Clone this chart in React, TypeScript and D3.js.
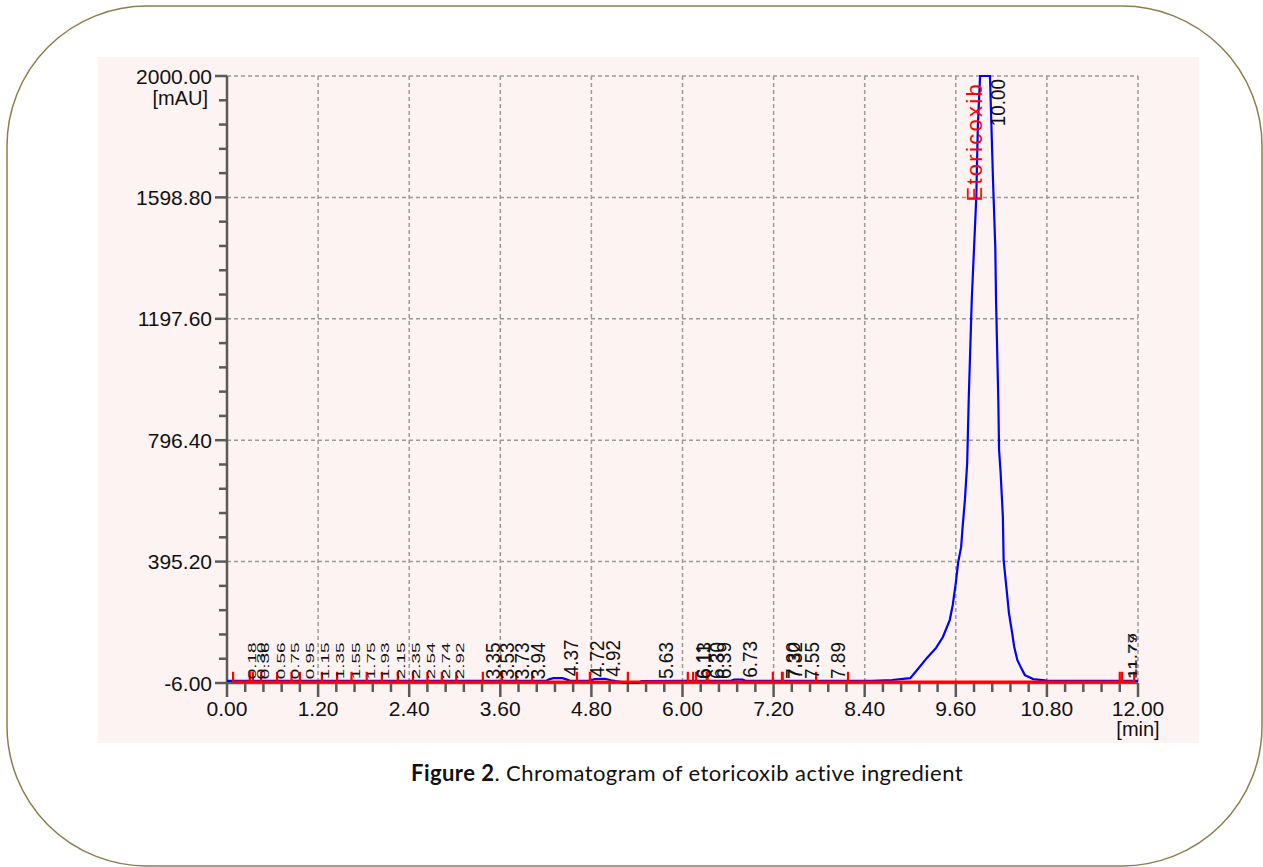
import React, { useEffect, useRef } from "react";
import * as d3 from "d3";

// axis tick labels as printed by the instrument software
const xTickLabels = ["0.00", "1.20", "2.40", "3.60", "4.80", "6.00", "7.20", "8.40", "9.60", "10.80", "12.00"];
const yTickLabels = ["-6.00", "395.20", "796.40", "1197.60", "1598.80", "2000.00"];

// detector signal (min, mAU)
const signalTime = [
  0, 0.06, 0.5, 1.0, 2.0, 3.0, 3.5, 4.0, 4.2, 4.25, 4.3, 4.42, 4.47, 4.52, 4.78, 4.84, 4.98, 5.06, 5.12,
  5.2, 5.24, 5.42, 5.46, 6.0, 6.3, 6.64, 6.68, 6.79, 6.83, 7.5, 8.0, 8.5, 8.76, 9.0, 9.09, 9.22, 9.34,
  9.43, 9.52, 9.56, 9.6, 9.63, 9.67, 9.69, 9.72, 9.75, 9.77, 9.81, 9.87, 9.89, 9.92, 9.95, 10.0, 10.05,
  10.09, 10.12, 10.13, 10.16, 10.17, 10.19, 10.22, 10.23, 10.27, 10.3, 10.34, 10.37, 10.41, 10.46, 10.51,
  10.62, 10.8, 11.5, 12.0,
];
const signalValue = [
  1, 1, 1, 1, 1, 1, 1, 1, 1, 7, 10, 10, 6, 1, 1, 7, 8, 3, 0,
  -3, -6, -6, 0, 1, 1, 1, 5, 5, 1, 1, 1, 1, 4, 10, 37, 77, 110,
  146, 202, 252, 325, 391, 443, 510, 599, 721, 929, 1260, 1600, 1831, 2100, 2250, 2300, 2200,
  1656, 1435, 1260, 929, 764, 691, 543, 400, 301, 225, 163, 113, 70, 44, 20,
  7, 2, 1, 1,
];

// integrated peaks: retention time label and apex height
const peakTimes = [
  0.18, 0.3, 0.36, 0.56, 0.75, 0.95, 1.15, 1.35, 1.55, 1.75, 1.93, 2.15, 2.35, 2.54, 2.74, 2.92,
  3.35, 3.53, 3.73, 3.94, 4.37, 4.72, 4.92, 5.63, 6.11, 6.13, 6.3, 6.39, 6.73, 7.3, 7.32, 7.55, 7.89,
  11.77, 11.79,
];
const peakHeights = [
  0, 0, 0, 0, 0, 0, 0, 0, 0, 0, 0, 0, 0, 0, 0, 0,
  0, 0, 0, 0, 10, 6, 8, 1, 1, 1, 1, 1, 5, 1, 1, 1, 1,
  1, 1,
];
const crowdedPeaks = [0.18, 0.3, 0.36, 0.56, 0.75, 0.95, 1.15, 1.35, 1.55, 1.75, 1.93, 2.15, 2.35, 2.54, 2.74, 2.92, 11.77, 11.79];

const mainPeakTime = 10.0;
const mainPeakName = "Etoricoxib";

// red integration marks (peak start / end)
const markerTimes = [
  0.08, 0.3, 0.34, 0.45, 0.66, 0.85, 0.96, 1.25, 1.45, 1.64, 1.84, 2.04, 2.25, 2.45, 2.64, 2.83, 3.02,
  3.37, 3.62, 3.81, 4.02, 4.61, 4.78, 5.28, 6.07, 6.14, 6.18, 6.32, 6.33, 7.19, 7.31, 7.32, 7.76, 8.18,
  11.76, 11.79, 11.95,
];

const W = 1263;
const H = 867;

export default function App() {
  const ref = useRef<SVGSVGElement | null>(null);

  useEffect(() => {
    const svg = d3.select(ref.current);
    svg.selectAll("*").remove();

    const left = 227, right = 1138, top = 76, bottom = 683;
    const x = d3.scaleLinear().domain([0, 12]).range([left, right]);
    const y = d3.scaleLinear().domain([-6, 2000]).range([bottom, top]).clamp(true);
    const font = "'Liberation Sans', Arial, sans-serif";
    const axisColor = "#5a5a5a";

    // outer rounded frame
    svg.append("rect")
      .attr("x", 7).attr("y", 6).attr("width", 1255).attr("height", 860)
      .attr("rx", 140).attr("ry", 140)
      .attr("fill", "#fff").attr("stroke", "#8c7f4c").attr("stroke-width", 1.5);

    // pink chart panel
    svg.append("rect")
      .attr("x", 98).attr("y", 57).attr("width", 1101).attr("height", 686)
      .attr("fill", "#fdf3f2");

    const xVals = xTickLabels.map(Number);
    const yVals = yTickLabels.map(Number);

    // grid
    const grid = svg.append("g")
      .attr("stroke", "#9a9a9a").attr("stroke-width", 1.5).attr("stroke-dasharray", "4,3");
    grid.selectAll("line.v").data(xVals.slice(1)).join("line")
      .attr("x1", (d) => x(d)).attr("x2", (d) => x(d))
      .attr("y1", top).attr("y2", bottom);
    grid.selectAll("line.h").data(yVals.slice(1)).join("line")
      .attr("x1", left).attr("x2", right)
      .attr("y1", (d) => y(d)).attr("y2", (d) => y(d));

    // axes
    const ax = svg.append("g").attr("stroke", axisColor).attr("stroke-width", 2.5);
    ax.append("line").attr("x1", left).attr("x2", left).attr("y1", top).attr("y2", bottom + 1);
    ax.append("line").attr("x1", left).attr("x2", right).attr("y1", bottom).attr("y2", bottom);

    const yMinor = d3.range(0, 26).map((i) => -6 + (i * 2006) / 25);
    ax.selectAll("line.yt").data(yMinor).join("line")
      .attr("x1", (d, i) => (i % 5 === 0 ? left - 12 : left - 8)).attr("x2", left)
      .attr("y1", (d) => y(d)).attr("y2", (d) => y(d));
    const xMinor = d3.range(0, 51).map((i) => i * 0.24);
    ax.selectAll("line.xt").data(xMinor).join("line")
      .attr("x1", (d) => x(d)).attr("x2", (d) => x(d))
      .attr("y1", bottom).attr("y2", (d, i) => (i % 5 === 0 ? bottom + 14 : bottom + 9));

    // tick labels
    svg.append("g").selectAll("text").data(yTickLabels).join("text")
      .attr("x", 212).attr("y", (d) => y(Number(d)))
      .attr("dy", "0.36em")
      .attr("text-anchor", "end")
      .style("font-family", font).style("font-size", "21px").style("fill", "#111")
      .text((d) => d);
    svg.append("text")
      .attr("x", 208).attr("y", 105).attr("text-anchor", "end")
      .style("font-family", font).style("font-size", "20px").style("fill", "#111")
      .text("[mAU]");

    svg.append("g").selectAll("text").data(xTickLabels).join("text")
      .attr("x", (d) => x(Number(d))).attr("y", 716)
      .attr("text-anchor", "middle")
      .style("font-family", font).style("font-size", "21px").style("fill", "#111")
      .text((d) => d);
    svg.append("text")
      .attr("x", 1138).attr("y", 736).attr("text-anchor", "middle")
      .style("font-family", font).style("font-size", "20px").style("fill", "#111")
      .text("[min]");

    // signal trace
    const line = d3.line<number>()
      .x((d, i) => x(signalTime[i]))
      .y((d) => y(d));
    svg.append("path")
      .datum(signalValue)
      .attr("d", line)
      .attr("fill", "none").attr("stroke", "#0000ff").attr("stroke-width", 2.2);

    // integration baseline and marks
    const red = svg.append("g").attr("stroke", "#ff0000");
    red.append("line")
      .attr("x1", x(markerTimes[0])).attr("x2", x(markerTimes[markerTimes.length - 1]))
      .attr("y1", y(-2)).attr("y2", y(-2)).attr("stroke-width", 2.5);
    red.selectAll("line.m").data(markerTimes).join("line")
      .attr("x1", (d) => x(d)).attr("x2", (d) => x(d))
      .attr("y1", y(-2)).attr("y2", y(-2) - 10).attr("stroke-width", 2.2);

    // peak retention-time labels
    svg.append("g").selectAll("text").data(peakTimes).join("text")
      .attr("transform", (d, i) => {
        const crowded = crowdedPeaks.includes(d);
        const off = crowded ? 15 : 19;
        return `translate(${x(d) + off},${y(peakHeights[i]) - 2}) rotate(-90) scale(0.9,${crowded ? 0.55 : 1})`;
      })
      .style("font-family", font).style("font-size", "21px").style("fill", "#111")
      .text((d) => d.toFixed(2));

    // main peak
    svg.append("text")
      .attr("transform", `translate(${x(mainPeakTime) + 19},${top + 3}) rotate(-90) scale(0.9,1)`)
      .attr("text-anchor", "end")
      .style("font-family", font).style("font-size", "21px").style("fill", "#111")
      .text(mainPeakTime.toFixed(2));
    svg.append("text")
      .attr("transform", `translate(${x(mainPeakTime) - 4},${top + 6}) rotate(-90)`)
      .attr("text-anchor", "end")
      .style("font-family", font).style("font-size", "22px").style("letter-spacing", "2.3px")
      .style("fill", "#ff0000")
      .text(mainPeakName);

    // caption
    const cap = svg.append("text")
      .attr("x", 411).attr("y", 781)
      .style("font-family", "Lato, 'Open Sans', sans-serif").style("font-size", "22px")
      .style("letter-spacing", "0.45px").style("fill", "#111");
    cap.append("tspan").style("font-weight", "bold").text("Figure 2");
    cap.append("tspan").text(". Chromatogram of etoricoxib active ingredient");
  }, []);

  return (
    <svg
      ref={ref}
      width={W}
      height={H}
      style={{ position: "absolute", left: 0, top: 0, background: "#fff" }}
    />
  );
}
